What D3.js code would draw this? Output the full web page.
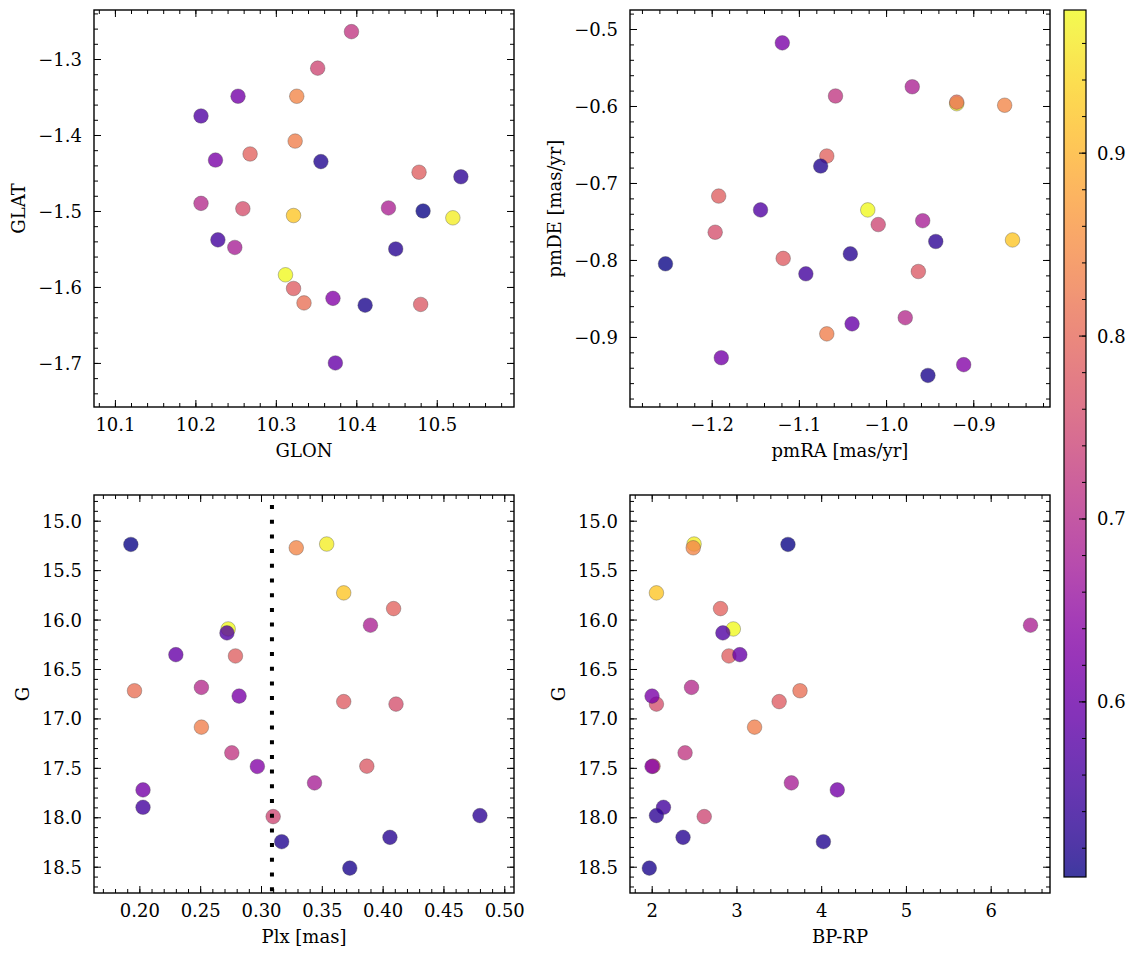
<!DOCTYPE html>
<html><head><meta charset="utf-8">
<script src="https://cdn.jsdelivr.net/npm/d3@7"></script>
<style>
body{margin:0;background:#fff}
svg{display:block}
text{font-family:"DejaVu Serif",serif;fill:#000}
</style>
</head><body><svg id="chart" width="1133" height="960"></svg>
<script>
// ---- data (one entry per star, ordered as plotted) ----
const prob = [0.978,0.965,0.92,0.84,0.83,0.81,0.79,0.785,0.78,0.775,0.76,0.745,0.72,0.70,0.685,0.68,0.63,0.62,0.61,0.595,0.57,0.555,0.53,0.525,0.52,0.515,0.504];
const glon = [10.312,10.520,10.322,10.326,10.324,10.335,10.268,10.478,10.322,10.480,10.259,10.352,10.394,10.207,10.440,10.249,10.371,10.225,10.253,10.374,10.207,10.228,10.530,10.449,10.356,10.411,10.483];
const glat = [-1.584,-1.509,-1.506,-1.349,-1.408,-1.621,-1.425,-1.449,-1.602,-1.623,-1.497,-1.312,-1.264,-1.490,-1.496,-1.548,-1.615,-1.433,-1.349,-1.700,-1.375,-1.538,-1.455,-1.550,-1.435,-1.624,-1.500];
const pmra = [-1.021,-0.919,-0.855,-0.864,-1.068,-0.919,-1.068,-1.192,-1.118,-0.963,-1.196,-1.009,-1.058,-0.978,-0.970,-0.958,-0.911,-1.119,-1.189,-1.039,-1.144,-1.092,-0.943,-1.041,-1.075,-0.952,-1.253];
const pmde = [-0.735,-0.597,-0.774,-0.599,-0.896,-0.595,-0.665,-0.717,-0.798,-0.815,-0.764,-0.754,-0.587,-0.875,-0.575,-0.749,-0.936,-0.518,-0.927,-0.883,-0.735,-0.818,-0.776,-0.792,-0.678,-0.950,-0.805];
const plx  = [0.273,0.354,0.368,0.329,0.251,0.196,0.409,0.279,0.368,0.387,0.411,0.310,0.276,0.251,0.390,0.344,0.297,0.282,0.203,0.230,0.272,0.203,0.480,0.406,0.317,0.373,0.193];
const gmag = [16.095,15.236,15.73,15.274,17.088,16.72,15.889,16.368,16.83,17.483,16.855,17.993,17.348,16.686,16.057,17.652,17.486,16.774,17.723,16.355,16.135,17.899,17.983,18.203,18.247,18.514,15.24];
const bprp = [2.963,2.50,2.056,2.49,3.214,3.75,2.812,2.911,3.504,2.016,2.056,2.62,2.394,2.47,6.47,3.648,2.004,2.004,4.19,3.04,2.84,2.139,2.056,2.37,4.026,1.972,3.608];
const plxRef = 0.309;

// axis limits
const glonLim = [10.074, 10.596], glatLim = [-1.758, -1.2355];
const pmraLim = [-1.2937, -0.812], pmdeLim = [-0.991, -0.4753];
const plxLim = [0.1627, 0.508], gLim = [14.74, 18.766];
const bprpLim = [1.744, 6.70];

// ---- layout ----
const svg = d3.select("#chart");
const FS = 18;
const color = d3.scaleSequential(d3.interpolatePlasma).domain(d3.extent(prob));
const stars = d3.range(prob.length);

function tickVals(dom, step){
  const lo = Math.min(...dom), hi = Math.max(...dom);
  const a = Math.ceil(lo/step - 1e-9), b = Math.floor(hi/step + 1e-9);
  return d3.range(a, b+1).map(i => +(i*step).toFixed(10));
}

const panels = [
  {xv:glon, yv:glat, xd:glonLim, yd:glatLim, inv:false, box:[94,10,514,407], xs:[0.1,0.02], ys:[0.1,0.02], xf:".1f", yf:".1f", xl:"GLON", yl:"GLAT"},
  {xv:pmra, yv:pmde, xd:pmraLim, yd:pmdeLim, inv:false, box:[630,10,1050,407], xs:[0.1,0.02], ys:[0.1,0.02], xf:".1f", yf:".1f", xl:"pmRA [mas/yr]", yl:"pmDE [mas/yr]"},
  {xv:plx, yv:gmag, xd:plxLim, yd:gLim, inv:true, box:[94,495,514,893], xs:[0.05,0.01], ys:[0.5,0.1], xf:".2f", yf:".1f", xl:"Plx [mas]", yl:"G", vline:plxRef},
  {xv:bprp, yv:gmag, xd:bprpLim, yd:gLim, inv:true, box:[630,495,1050,893], xs:[1,0.2], ys:[0.5,0.1], xf:"d", yf:".1f", xl:"BP-RP", yl:"G"}
];

const MAJ = 7, MIN = 4;

panels.forEach((p, pi) => {
  const [x0,y0,x1,y1] = p.box;
  const x = d3.scaleLinear().domain(p.xd).range([x0,x1]);
  const y = d3.scaleLinear().domain(p.yd).range(p.inv ? [y0,y1] : [y1,y0]);
  const g = svg.append("g");

  const clipId = "clip"+pi;
  svg.append("clipPath").attr("id", clipId).append("rect")
    .attr("x", x0).attr("y", y0).attr("width", x1-x0).attr("height", y1-y0);

  // points
  g.append("g").attr("clip-path", `url(#${clipId})`)
    .selectAll("circle").data(stars).join("circle")
    .attr("cx", i => x(p.xv[i])).attr("cy", i => y(p.yv[i]))
    .attr("r", 7.3)
    .attr("fill", i => color(prob[i]))
    .attr("fill-opacity", 0.8)
    .attr("stroke", "#444").attr("stroke-opacity", 0.7).attr("stroke-width", 0.5);

  if (p.vline !== undefined) {
    g.append("line")
      .attr("x1", x(p.vline)).attr("x2", x(p.vline))
      .attr("y1", y0).attr("y2", y1)
      .attr("stroke", "#000").attr("stroke-width", 4)
      .attr("stroke-dasharray", "4 10.7").attr("stroke-dashoffset", 4.7);
  }

  const xMaj = tickVals(p.xd, p.xs[0]), xMin = tickVals(p.xd, p.xs[1]);
  const yMaj = tickVals(p.yd, p.ys[0]), yMin = tickVals(p.yd, p.ys[1]);

  function styleAxis(sel){
    sel.select(".domain").remove();
    sel.selectAll("line").attr("stroke", "#000").attr("stroke-width", 1);
    sel.selectAll("text").attr("font-size", FS).attr("font-family", '"DejaVu Serif",serif');
  }
  // bottom
  g.append("g").attr("transform", `translate(0,${y1})`)
    .call(d3.axisBottom(x).tickValues(xMin).tickSize(-MIN).tickFormat(""))
    .call(styleAxis);
  const bx = g.append("g").attr("transform", `translate(0,${y1})`)
    .call(d3.axisBottom(x).tickValues(xMaj).tickSize(-MAJ).tickPadding(11).tickFormat(d3.format(p.xf)))
    .call(styleAxis);
  // top
  g.append("g").attr("transform", `translate(0,${y0})`)
    .call(d3.axisTop(x).tickValues(xMin).tickSize(-MIN).tickFormat(""))
    .call(styleAxis);
  g.append("g").attr("transform", `translate(0,${y0})`)
    .call(d3.axisTop(x).tickValues(xMaj).tickSize(-MAJ).tickFormat(""))
    .call(styleAxis);
  // left
  g.append("g").attr("transform", `translate(${x0},0)`)
    .call(d3.axisLeft(y).tickValues(yMin).tickSize(-MIN).tickFormat(""))
    .call(styleAxis);
  const ly = g.append("g").attr("transform", `translate(${x0},0)`)
    .call(d3.axisLeft(y).tickValues(yMaj).tickSize(-MAJ).tickPadding(12).tickFormat(d3.format(p.yf)))
    .call(styleAxis);
  ly.selectAll("text").attr("dy", "0.36em");
  // right
  g.append("g").attr("transform", `translate(${x1},0)`)
    .call(d3.axisRight(y).tickValues(yMin).tickSize(-MIN).tickFormat(""))
    .call(styleAxis);
  g.append("g").attr("transform", `translate(${x1},0)`)
    .call(d3.axisRight(y).tickValues(yMaj).tickSize(-MAJ).tickFormat(""))
    .call(styleAxis);

  // hide labels outside the frame horizontally (like clipped figure edge) - keep all
  // frame
  g.append("rect").attr("x", x0).attr("y", y0).attr("width", x1-x0).attr("height", y1-y0)
    .attr("fill", "none").attr("stroke", "#000").attr("stroke-width", 1.4);

  // axis labels
  g.append("text").attr("x", (x0+x1)/2).attr("y", y1+50)
    .attr("text-anchor", "middle").attr("font-size", FS).text(p.xl);
  let minX = Infinity;
  ly.selectAll("text").each(function(){ const b = this.getBBox(); minX = Math.min(minX, b.x); });
  const bxl = x0 + minX - 13;
  g.append("text").attr("transform", `translate(${bxl},${(y0+y1)/2}) rotate(-90)`)
    .attr("text-anchor", "middle").attr("font-size", FS).text(p.yl);
});

// ---- colorbar ----
const cb = {x0:1064, x1:1086, y0:10, y1:877};
const cdom = d3.extent(prob);
const cy = d3.scaleLinear().domain(cdom).range([cb.y1, cb.y0]);
const grad = svg.append("defs").append("linearGradient").attr("id", "cbgrad")
  .attr("x1", 0).attr("y1", 1).attr("x2", 0).attr("y2", 0);
d3.range(0, 1.0001, 0.02).forEach(t => {
  grad.append("stop").attr("offset", t).attr("stop-color", d3.interpolatePlasma(t));
});
svg.append("rect").attr("x", cb.x0).attr("y", cb.y0).attr("width", cb.x1-cb.x0).attr("height", cb.y1-cb.y0)
  .attr("fill", "url(#cbgrad)").attr("fill-opacity", 0.8);
const cbMin = svg.append("g").attr("transform", `translate(${cb.x1},0)`)
  .call(d3.axisRight(cy).tickValues(tickVals(cdom, 0.02)).tickSize(-MIN).tickFormat(""));
const cbMaj = svg.append("g").attr("transform", `translate(${cb.x1},0)`)
  .call(d3.axisRight(cy).tickValues(tickVals(cdom, 0.1)).tickSize(-MAJ).tickPadding(11).tickFormat(d3.format(".1f")));
[cbMin, cbMaj].forEach(s => {
  s.select(".domain").remove();
  s.selectAll("line").attr("stroke", "#000").attr("stroke-width", 1);
  s.selectAll("text").attr("font-size", FS).attr("font-family", '"DejaVu Serif",serif').attr("dy", "0.36em");
});
svg.append("rect").attr("x", cb.x0).attr("y", cb.y0).attr("width", cb.x1-cb.x0).attr("height", cb.y1-cb.y0)
  .attr("fill", "none").attr("stroke", "#000").attr("stroke-width", 1.2);
</script>
</body></html>
